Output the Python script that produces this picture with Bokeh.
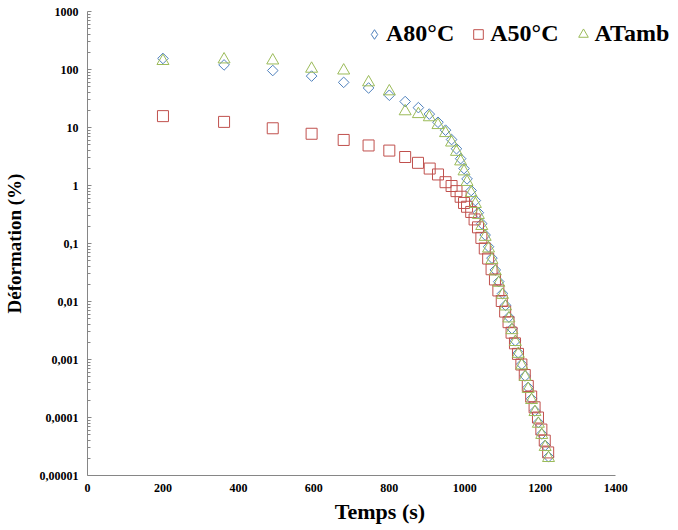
from bokeh.plotting import figure
from bokeh.models import (ColumnDataSource, FixedTicker, CustomJSTickFormatter,
                          Legend, LegendItem, Range1d)
from bokeh.embed import file_html
from bokeh.resources import INLINE

# ---------------- data ----------------
x_a80 = [200, 362, 491, 594, 679, 745, 800, 842, 877, 906,
         929, 949, 965, 978, 989, 998, 1006, 1017, 1028, 1036,
         1045, 1054, 1063, 1072, 1081, 1090, 1100, 1108, 1117, 1125,
         1134, 1142, 1151, 1160, 1168, 1177, 1186, 1195, 1204, 1213, 1222]
y_a80 = [155, 120, 96, 77, 60, 48, 36, 28, 22, 17,
         12.3, 9.0, 6.2, 4.3, 2.9, 1.96, 1.3, 0.82, 0.55, 0.34,
         0.22, 0.14, 0.088, 0.056, 0.035, 0.022, 0.0137, 0.0086, 0.0054, 0.0034,
         0.0021, 0.0013, 0.00083, 0.00052, 0.00033, 0.00021, 0.00013, 0.000082,
         0.000052, 0.000033, 0.000021]

x_a50 = [200, 362, 491, 594, 679, 745, 800, 842, 876, 907,
         929, 949, 965, 978, 989, 998, 1006, 1017, 1026, 1035,
         1044, 1053, 1062, 1071, 1080, 1089, 1098, 1107, 1116, 1124,
         1133, 1141, 1150, 1159, 1167, 1176, 1185, 1194, 1203, 1212, 1221]
y_a50 = [15.7, 12.5, 9.7, 7.8, 6.1, 4.9, 4.0, 3.1, 2.46, 1.96,
         1.55, 1.14, 0.98, 0.8, 0.64, 0.5, 0.43, 0.35, 0.26, 0.19,
         0.125, 0.082, 0.055, 0.036, 0.024, 0.0155, 0.0102, 0.0067, 0.0044, 0.0029,
         0.0019, 0.00125, 0.00082, 0.00054, 0.00035, 0.00023, 0.00015, 0.0001,
         0.000062, 0.00004, 0.000025]

x_tamb = [200, 362, 491, 594, 679, 745, 800, 842, 877, 906,
          929, 949, 965, 978, 989, 998, 1006, 1017, 1028, 1036,
          1045, 1054, 1063, 1072, 1081, 1090, 1100, 1108, 1117, 1125,
          1134, 1142, 1151, 1160, 1168, 1177, 1186, 1195, 1204, 1213, 1222]
y_tamb = [140, 149, 143, 103, 96, 60, 42, 19, 17, 15,
          11, 8.0, 5.5, 3.8, 2.6, 1.75, 1.15, 0.74, 0.48, 0.31,
          0.2, 0.13, 0.082, 0.052, 0.033, 0.021, 0.013, 0.0082, 0.0051, 0.0032,
          0.002, 0.00125, 0.00079, 0.0005, 0.00031, 0.0002, 0.000124, 0.000078,
          0.00005, 0.000031, 0.00002]

series_labels = ["A80°C", "A50°C", "ATamb"]
xticks = [0, 200, 400, 600, 800, 1000, 1200, 1400]
yticks = [1e-5, 1e-4, 1e-3, 1e-2, 1e-1, 1, 10, 100, 1000]
ytick_labels = ["0,00001", "0,0001", "0,001", "0,01", "0,1", "1", "10", "100", "1000"]
x_title = "Temps (s)"
y_title = "Déformation (%)"

FONT = "Liberation Serif"
BLUE = "#4F81BD"
RED = "#C0504D"
GREEN = "#9BBB59"
AXIS = "#868686"

# 0..1400 s spans 530 px; the frame runs on to the right edge so the
# legend (which overhangs the axis end in the reference) is not clipped
W, H = 672, 526
LEFT, TOP, BOTTOM = 85, 11, 51
X_MAX_AXIS = 1400
X_VIEW_END = 1400 * (W - LEFT) / 530

p = figure(width=W, height=H, y_axis_type="log",
           x_range=Range1d(0, X_VIEW_END), y_range=Range1d(1e-5, 1e3),
           output_backend="svg", toolbar_location=None,
           min_border_left=LEFT, min_border_right=0, min_border_top=TOP,
           min_border_bottom=BOTTOM)
p.outline_line_color = None
p.xgrid.visible = False
p.ygrid.visible = False
p.background_fill_color = "white"

s80 = ColumnDataSource(dict(x=x_a80, y=y_a80))
s50 = ColumnDataSource(dict(x=x_a50, y=y_a50))
stb = ColumnDataSource(dict(x=x_tamb, y=y_tamb))

r80 = p.scatter("x", "y", source=s80, marker="square", angle=0.7853981634, size=7.5,
                fill_color=None, line_color=BLUE, line_width=1)
# hidden twin used only to draw the diamond symbol in the legend
r80_leg = p.scatter("x", "y", source=s80, marker="diamond", size=10,
                    fill_color=None, line_color=BLUE, line_width=1, visible=False)
r50 = p.scatter("x", "y", source=s50, marker="square", size=11,
                fill_color=None, line_color=RED, line_width=1)
rtb = p.scatter("x", "y", source=stb, marker="triangle", size=12,
                fill_color=None, line_color=GREEN, line_width=1)

# x axis
p.xaxis.ticker = FixedTicker(ticks=xticks)
p.xaxis.bounds = (0, X_MAX_AXIS)
p.xaxis.major_tick_in = 0
p.xaxis.major_tick_out = 0
p.xaxis.minor_tick_in = 0
p.xaxis.minor_tick_out = 0
p.xaxis.major_label_standoff = 8
p.xaxis.axis_label = x_title
p.xaxis.axis_label_standoff = 4
p.xaxis.axis_label_text_font_size = "22px"

# y axis
minor = [m * d for d in yticks[:-1] for m in range(2, 10)]
p.yaxis.ticker = FixedTicker(ticks=yticks, minor_ticks=minor)
p.yaxis.formatter = CustomJSTickFormatter(args=dict(vals=yticks, labs=ytick_labels), code="""
let best = 0; let d = Infinity;
for (let i = 0; i < vals.length; i++) {
  const e = Math.abs(Math.log10(vals[i]) - Math.log10(tick));
  if (e < d) { d = e; best = i; }
}
return labs[best];
""")
p.yaxis.major_tick_in = 4
p.yaxis.major_tick_out = 0
p.yaxis.minor_tick_in = 3
p.yaxis.minor_tick_out = 0
p.yaxis.major_label_standoff = 9
p.yaxis.axis_label = y_title
p.yaxis.axis_label_standoff = 12
p.yaxis.axis_label_text_font_size = "19px"

for ax in (p.xaxis[0], p.yaxis[0]):
    ax.axis_line_color = AXIS
    ax.major_tick_line_color = AXIS
    ax.minor_tick_line_color = AXIS
    ax.major_label_text_font = FONT
    ax.major_label_text_font_style = "bold"
    ax.major_label_text_font_size = "12px"
    ax.major_label_text_color = "black"
    ax.axis_label_text_font = FONT
    ax.axis_label_text_font_style = "bold"
    ax.axis_label_text_color = "black"

legend = Legend(items=[LegendItem(label=series_labels[0], renderers=[r80_leg]),
                       LegendItem(label=series_labels[1], renderers=[r50]),
                       LegendItem(label=series_labels[2], renderers=[rtb])],
                orientation="horizontal", location=(275, 428),
                label_text_font=FONT, label_text_font_style="bold",
                label_text_font_size="24px", label_text_color="black",
                glyph_width=24, glyph_height=24, label_standoff=0, spacing=12,
                padding=0, margin=0, border_line_color=None,
                background_fill_alpha=0)
p.add_layout(legend, "center")

open("out.html", "w").write(file_html(p, INLINE))
